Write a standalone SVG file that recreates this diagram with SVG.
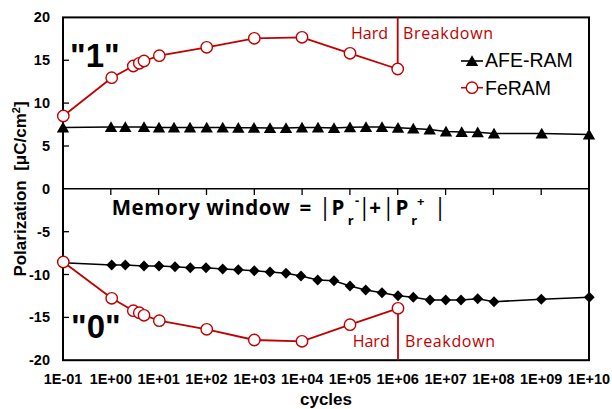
<svg xmlns="http://www.w3.org/2000/svg" width="612" height="409" viewBox="0 0 612 409">
  <defs>
    <style>
      .tick-label { font-family: "Liberation Sans", Arial, sans-serif; font-size: 14.5px; font-weight: bold; fill: #000; }
      .axis-title { font-family: "Liberation Sans", Arial, sans-serif; font-size: 17px; font-weight: bold; fill: #000; }
      .legend { font-family: "Liberation Sans", Arial, sans-serif; font-size: 19.5px; fill: #000; }
      .state { font-family: "Liberation Sans", Arial, sans-serif; font-size: 33px; font-weight: bold; fill: #000; }
      .note { font-family: "Open Sans", "Liberation Sans", sans-serif; font-size: 16px; fill: #C00000; }
      .formula { font-family: "Open Sans", "Liberation Sans", sans-serif; font-size: 20.5px; font-weight: bold; fill: #000; }
      .bar { font-family: "Open Sans", "Liberation Sans", sans-serif; font-size: 23px; font-weight: normal; fill: #000; text-anchor: middle; }
      .sub { font-family: "Open Sans", "Liberation Sans", sans-serif; font-size: 13px; font-weight: bold; fill: #000; }
      .axis { stroke: #000; stroke-width: 2; fill: none; }
      .tick { stroke: #000; stroke-width: 1.3; }
      .black-line { stroke: #000; stroke-width: 1.6; fill: none; }
      .red-line { stroke: #C00000; stroke-width: 1.8; fill: none; }
      .circle { fill: #fff; stroke: #C00000; stroke-width: 1.4; }
    </style>
    <path id="tri" d="M0,-5.8 L6.2,5 L-6.2,5 Z" fill="#000"/>
    <path id="dia" d="M0,-5.5 L5.4,0 L0,5.5 L-5.4,0 Z" fill="#000"/>
    <circle id="circ" r="5.7" class="circle"/>
  </defs>

  <rect width="612" height="409" fill="#fff"/>

  <!-- plot frame, zero axis and ticks -->
  <g id="axes">
    <rect x="63" y="17.4" width="526" height="342.8" class="axis"/>
    <line x1="63" y1="188.8" x2="589" y2="188.8" stroke="#000" stroke-width="1.5"/>
    <g class="tick">
      <line x1="110.8" y1="188.8" x2="110.8" y2="195"/>
      <line x1="158.6" y1="188.8" x2="158.6" y2="195"/>
      <line x1="206.5" y1="188.8" x2="206.5" y2="195"/>
      <line x1="254.3" y1="188.8" x2="254.3" y2="195"/>
      <line x1="302.1" y1="188.8" x2="302.1" y2="195"/>
      <line x1="349.9" y1="188.8" x2="349.9" y2="195"/>
      <line x1="397.7" y1="188.8" x2="397.7" y2="195"/>
      <line x1="445.6" y1="188.8" x2="445.6" y2="195"/>
      <line x1="493.4" y1="188.8" x2="493.4" y2="195"/>
      <line x1="541.2" y1="188.8" x2="541.2" y2="195"/>
      <line x1="63" y1="60.25" x2="69" y2="60.25"/>
      <line x1="63" y1="103.1" x2="69" y2="103.1"/>
      <line x1="63" y1="146" x2="69" y2="146"/>
      <line x1="63" y1="231.7" x2="69" y2="231.7"/>
      <line x1="63" y1="274.5" x2="69" y2="274.5"/>
      <line x1="63" y1="317.4" x2="69" y2="317.4"/>
    </g>
    <g class="tick-label" text-anchor="end">
      <text x="50" y="22.4">20</text>
      <text x="50" y="65.3">15</text>
      <text x="50" y="108.1">10</text>
      <text x="50" y="151">5</text>
      <text x="50" y="193.8">0</text>
      <text x="50" y="236.7">-5</text>
      <text x="50" y="279.5">-10</text>
      <text x="50" y="322.4">-15</text>
      <text x="50" y="365.2">-20</text>
    </g>
    <g class="tick-label" text-anchor="middle">
      <text x="63" y="384.3">1E-01</text>
      <text x="110.8" y="384.3">1E+00</text>
      <text x="158.6" y="384.3">1E+01</text>
      <text x="206.5" y="384.3">1E+02</text>
      <text x="254.3" y="384.3">1E+03</text>
      <text x="302.1" y="384.3">1E+04</text>
      <text x="349.9" y="384.3">1E+05</text>
      <text x="397.7" y="384.3">1E+06</text>
      <text x="445.6" y="384.3">1E+07</text>
      <text x="493.4" y="384.3">1E+08</text>
      <text x="541.2" y="384.3">1E+09</text>
      <text x="589" y="384.3">1E+10</text>
    </g>
    <text class="axis-title" text-anchor="middle" x="326" y="405" font-size="16.5">cycles</text>
    <text class="axis-title" text-anchor="middle" transform="translate(26,189) rotate(-90)" xml:space="preserve">Polarization  [μC/cm<tspan font-size="11" dy="-6">2</tspan><tspan dy="6">]</tspan></text>
  </g>

  <!-- connectors: series lines -->
  <g id="connectors">
    <polyline class="black-line" points="63,127.5 111,127 125.3,127 144,127 159,127.5 174,127.5 190,127.5 206.7,127.5 222.7,127.5 238.3,127.8 254,127.8 270,128 286,128 302,127.5 318,127.5 334,128 350,127.3 366,127 382,127 398,127.8 413.3,128.5 429.7,129.5 446,131.5 461.7,132 477.7,132.2 494,133.5 541.7,133.5 589,134.5"/>
    <polyline class="black-line" points="63,262.7 111.7,265 125.3,265 144,266 159,266 175,266.7 190.3,267.7 206,267.7 222.7,269 238.3,269.7 254.3,270.7 270,272 286,273.3 301,276 317.7,280 334,280.7 350,286 365.7,290 382,292.7 398,295.7 413.3,297.3 430,300 445.7,300 461,300 477.7,298.7 494,301.7 541.3,299.3 589.3,297.3"/>
    <polyline class="red-line" points="63.3,116 111.7,77.7 133.3,66 139.3,63.3 144,61 159.3,55.7 206.7,47.3 254.3,38.3 302,37.3 350,53.3 397.7,69"/>
    <polyline class="red-line" points="63.3,262 111.7,298.3 133.3,310.7 139.3,312.7 144,315.3 159.3,320.7 206.7,329.3 254.3,340 302,341.3 350,324.7 398,308.3"/>
    <line class="red-line" x1="397.7" y1="17.4" x2="397.7" y2="63.3"/>
    <line class="red-line" x1="398" y1="314" x2="398" y2="360.2"/>
  </g>

  <!-- AFE-RAM, positive state (triangles) -->
  <g id="afe-ram-1">
    <use href="#tri" x="63" y="127.5"/><use href="#tri" x="111" y="127"/><use href="#tri" x="125.3" y="127"/>
    <use href="#tri" x="144" y="127"/><use href="#tri" x="159" y="127.5"/><use href="#tri" x="174" y="127.5"/>
    <use href="#tri" x="190" y="127.5"/><use href="#tri" x="206.7" y="127.5"/><use href="#tri" x="222.7" y="127.5"/>
    <use href="#tri" x="238.3" y="127.8"/><use href="#tri" x="254" y="127.8"/><use href="#tri" x="270" y="128"/>
    <use href="#tri" x="286" y="128"/><use href="#tri" x="302" y="127.5"/><use href="#tri" x="318" y="127.5"/>
    <use href="#tri" x="334" y="128"/><use href="#tri" x="350" y="127.3"/><use href="#tri" x="366" y="127"/>
    <use href="#tri" x="382" y="127"/><use href="#tri" x="398" y="127.8"/><use href="#tri" x="413.3" y="128.5"/>
    <use href="#tri" x="429.7" y="129.5"/><use href="#tri" x="446" y="131.5"/><use href="#tri" x="461.7" y="132"/>
    <use href="#tri" x="477.7" y="132.2"/><use href="#tri" x="494" y="133.5"/><use href="#tri" x="541.7" y="133.5"/>
    <use href="#tri" x="589" y="134.5"/>
  </g>

  <!-- AFE-RAM, negative state (diamonds) -->
  <g id="afe-ram-0">
    <use href="#dia" x="63" y="262.7"/><use href="#dia" x="111.7" y="265"/><use href="#dia" x="125.3" y="265"/>
    <use href="#dia" x="144" y="266"/><use href="#dia" x="159" y="266"/><use href="#dia" x="175" y="266.7"/>
    <use href="#dia" x="190.3" y="267.7"/><use href="#dia" x="206" y="267.7"/><use href="#dia" x="222.7" y="269"/>
    <use href="#dia" x="238.3" y="269.7"/><use href="#dia" x="254.3" y="270.7"/><use href="#dia" x="270" y="272"/>
    <use href="#dia" x="286" y="273.3"/><use href="#dia" x="301" y="276"/><use href="#dia" x="317.7" y="280"/>
    <use href="#dia" x="334" y="280.7"/><use href="#dia" x="350" y="286"/><use href="#dia" x="365.7" y="290"/>
    <use href="#dia" x="382" y="292.7"/><use href="#dia" x="398" y="295.7"/><use href="#dia" x="413.3" y="297.3"/>
    <use href="#dia" x="430" y="300"/><use href="#dia" x="445.7" y="300"/><use href="#dia" x="461" y="300"/>
    <use href="#dia" x="477.7" y="298.7"/><use href="#dia" x="494" y="301.7"/><use href="#dia" x="541.3" y="299.3"/>
    <use href="#dia" x="589.3" y="297.3"/>
  </g>

  <!-- FeRAM, positive state -->
  <g id="feram-1">
    <use href="#circ" x="63.3" y="116"/><use href="#circ" x="111.7" y="77.7"/><use href="#circ" x="133.3" y="66"/>
    <use href="#circ" x="139.3" y="63.3"/><use href="#circ" x="144" y="61"/><use href="#circ" x="159.3" y="55.7"/>
    <use href="#circ" x="206.7" y="47.3"/><use href="#circ" x="254.3" y="38.3"/><use href="#circ" x="302" y="37.3"/>
    <use href="#circ" x="350" y="53.3"/><use href="#circ" x="397.7" y="69"/>
  </g>

  <!-- FeRAM, negative state -->
  <g id="feram-0">
    <use href="#circ" x="63.3" y="262"/><use href="#circ" x="111.7" y="298.3"/><use href="#circ" x="133.3" y="310.7"/>
    <use href="#circ" x="139.3" y="312.7"/><use href="#circ" x="144" y="315.3"/><use href="#circ" x="159.3" y="320.7"/>
    <use href="#circ" x="206.7" y="329.3"/><use href="#circ" x="254.3" y="340"/><use href="#circ" x="302" y="341.3"/>
    <use href="#circ" x="350" y="324.7"/><use href="#circ" x="398" y="308.3"/>
  </g>

  <!-- breakdown annotations -->
  <g id="breakdown-top">
    <text class="note" x="351" y="39.3" textLength="37">Hard</text>
    <text class="note" x="403" y="39.3" textLength="90">Breakdown</text>
  </g>
  <g id="breakdown-bottom">
    <text class="note" x="352.7" y="347.3" textLength="37">Hard</text>
    <text class="note" x="405" y="347.3" textLength="90">Breakdown</text>
  </g>

  <!-- state labels -->
  <g id="state-1"><text class="state" x="70" y="66.5">"1"</text></g>
  <g id="state-0"><text class="state" x="71" y="338">"0"</text></g>

  <!-- memory window definition: |Pr-| + |Pr+| -->
  <g id="memory-window">
    <text class="formula" x="111.7" y="214.5" textLength="178">Memory window</text>
    <text class="formula" x="299.5" y="214.5">=</text>
    <text class="bar" x="325" y="215">|</text>
    <text class="formula" x="331.5" y="214.5">P</text>
    <text class="sub" x="347.8" y="225">r</text>
    <text class="sub" x="357.2" y="205" text-anchor="middle">-</text>
    <text class="bar" x="364.3" y="215">|</text>
    <text class="formula" x="369.3" y="214.5">+</text>
    <text class="bar" x="388.3" y="215">|</text>
    <text class="formula" x="395.5" y="214.5">P</text>
    <text class="sub" x="411.3" y="225">r</text>
    <text class="sub" x="420.8" y="206" text-anchor="middle">+</text>
    <text class="bar" x="440" y="215">|</text>
  </g>

  <!-- legend -->
  <g id="legend">
    <line x1="461" y1="61" x2="483" y2="61" stroke="#000" stroke-width="1.6"/>
    <use href="#tri" x="472" y="61"/>
    <text class="legend" x="485" y="66.7">AFE-RAM</text>
    <line x1="461" y1="87.7" x2="483" y2="87.7" stroke="#C00000" stroke-width="1.6"/>
    <use href="#circ" x="472" y="87.7"/>
    <text class="legend" x="485" y="95">FeRAM</text>
  </g>
</svg>
